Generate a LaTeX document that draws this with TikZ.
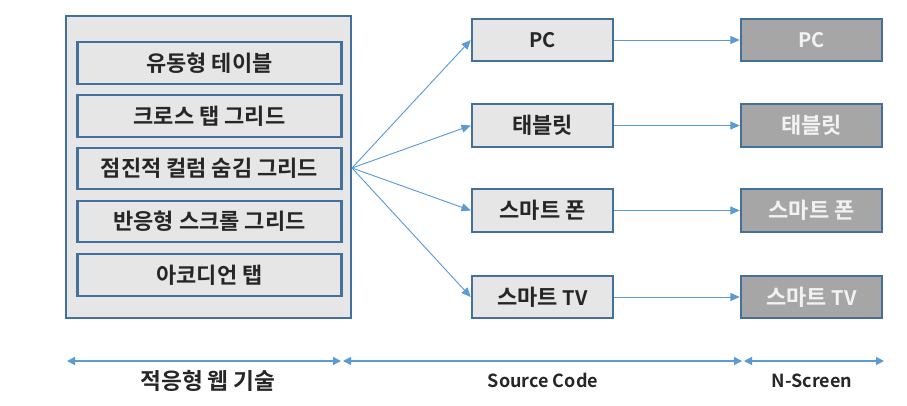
\documentclass[tikz,border=0pt]{standalone}
\usepackage{fontspec}
\setmainfont{Noto Sans CJK KR}[BoldFont={Noto Sans CJK KR Bold}]
\usetikzlibrary{arrows.meta}
\definecolor{boxfill}{HTML}{E7E6E6}
\definecolor{boxedge}{HTML}{41719C}
\definecolor{darkfill}{HTML}{A6A6A6}
\definecolor{linkblue}{HTML}{5B9BD5}
\definecolor{txt}{HTML}{262626}
\newcommand{\latn}[1]{{\fontsize{13.5}{15}\selectfont #1}}
\newcommand{\boxlatn}[1]{{\fontsize{15}{17}\selectfont #1}}
\tikzset{
  px/.style={x=0.75pt,y=-0.75pt},
  outerbox/.style={draw=boxedge,fill=boxfill,line width=1.5pt},
  itembox/.style={draw=boxedge,fill=boxfill,line width=1.6pt,minimum width=198pt,minimum height=31pt,inner sep=0pt,font=\bfseries\fontsize{16.5}{18}\selectfont,text=txt},
  srcbox/.style={draw=boxedge,fill=boxfill,line width=1.6pt,minimum width=106pt,minimum height=32pt,inner sep=0pt,font=\bfseries\fontsize{16.5}{18}\selectfont,text=txt},
  scrbox/.style={draw=boxedge,fill=darkfill,line width=1.6pt,minimum width=106pt,minimum height=32pt,inner sep=0pt,font=\bfseries\fontsize{16.5}{18}\selectfont,text=white!95!black},
  link/.style={draw=linkblue,line width=0.7pt,-{Triangle[length=7pt,width=6pt]}},
  span/.style={draw=linkblue,line width=1pt,{Triangle[length=6pt,width=6pt]}-{Triangle[length=6pt,width=6pt]}},
  lbl/.style={font=\bfseries\fontsize{17}{19}\selectfont,text=txt},
}
\begin{document}
\begin{tikzpicture}[px]
\useasboundingbox (0,0) rectangle (907,406);
\node[outerbox,minimum width=214pt,minimum height=226pt,inner sep=0pt] (outer) at (208.5,167) {};
\node[itembox] (i1) at (209.5,63) {유동형 테이블};
\node[itembox] (i2) at (209.5,116) {크로스 탭 그리드};
\node[itembox] (i3) at (209.5,168.5) {점진적 컬럼 숨김 그리드};
\node[itembox] (i4) at (209.5,221.5) {반응형 스크롤 그리드};
\node[itembox] (i5) at (209.5,275) {아코디언 탭};
\coordinate (hub) at (352,168);

\node[srcbox] (s1) at (542.5,40) {\boxlatn{PC}};
\node[srcbox] (s2) at (542.5,125.5) {태블릿};
\node[srcbox] (s3) at (542.5,210.5) {스마트 폰};
\node[srcbox] (s4) at (542.5,297) {스마트 \boxlatn{TV}};

\node[scrbox] (n1) at (811.5,40) {\boxlatn{PC}};
\node[scrbox] (n2) at (811.5,125.5) {태블릿};
\node[scrbox] (n3) at (811.5,210.5) {스마트 폰};
\node[scrbox] (n4) at (811.5,297) {스마트 \boxlatn{TV}};

\foreach \k in {1,2,3,4}{
  \draw[link] (hub) -- (s\k.west);
  \draw[link] (s\k.east) -- (n\k.west);
}

\coordinate (a0) at (67,361);
\coordinate (a1) at (341,361);
\coordinate (a2) at (343,361);
\coordinate (a3) at (742,361);
\coordinate (a4) at (744,361);
\coordinate (a5) at (884,361);
\draw[span] (a0) -- (a1);
\draw[span] (a2) -- (a3);
\draw[span] (a4) -- (a5);
\node[lbl] (l1) at (208,381) {적응형 웹 기술};
\node[lbl] (l2) at (543,380) {\latn{Source Code}};
\node[lbl] (l3) at (812,381) {\latn{N-Screen}};
\end{tikzpicture}
\end{document}
